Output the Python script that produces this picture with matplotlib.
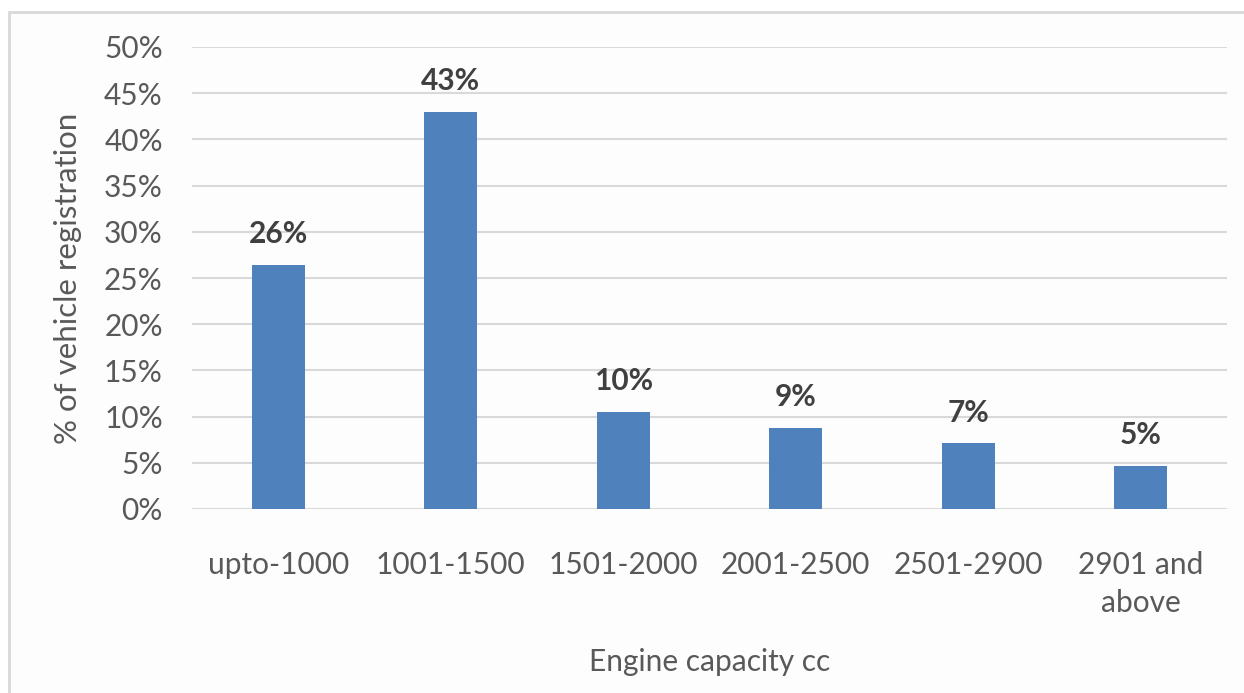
import matplotlib.pyplot as plt
from matplotlib.patches import Rectangle
from matplotlib.ticker import FuncFormatter, MultipleLocator

# Share of vehicle registrations by engine capacity
categories = ["upto-1000", "1001-1500", "1501-2000", "2001-2500", "2501-2900", "2901 and\nabove"]
shares = [26.4, 43.0, 10.5, 8.8, 7.1, 4.7]

BAR_COLOR = "#4F81BD"
TICK_COLOR = "#595959"
LABEL_COLOR = "#404040"
GRID_COLOR = "#D9D9D9"
FONT = ["Lato", "DejaVu Sans"]
FS = 21.5

plt.rcParams["font.family"] = FONT

fig = plt.figure(figsize=(12.44, 6.93), dpi=100)
fig.patch.set_facecolor("white")

# light chart-area frame running off the right and bottom edges
frame = Rectangle((9 / 1244, -0.05), 1.2, 1 - 12 / 693 + 0.05,
                  transform=fig.transFigure, facecolor="#FDFDFD",
                  edgecolor=GRID_COLOR, linewidth=2.0, zorder=-10)
fig.patches.append(frame)

ax = fig.add_axes([192 / 1244, 1 - 509 / 693, (1227 - 192) / 1244, (509 - 47) / 693])
ax.set_facecolor("none")

x = list(range(len(categories)))
bars = ax.bar(x, shares, width=0.31, color=BAR_COLOR, zorder=3)

for rect, v in zip(bars, shares):
    ax.annotate(f"{round(v)}%", (rect.get_x() + rect.get_width() / 2, v),
                xytext=(0, 12), textcoords="offset points",
                ha="center", va="bottom", fontsize=FS, fontweight="bold",
                color=LABEL_COLOR)

ax.set_xlim(-0.5, len(categories) - 0.5)
ax.set_ylim(0, 50)
ax.yaxis.set_major_locator(MultipleLocator(5))
ax.yaxis.set_major_formatter(FuncFormatter(lambda v, _: f"{v:.0f}%"))
ax.grid(axis="y", color=GRID_COLOR, linewidth=1.5, zorder=0)
ax.set_axisbelow(True)

for s in ax.spines.values():
    s.set_visible(False)

ax.set_xticks(x)
ax.set_xticklabels(categories, fontsize=FS, color=TICK_COLOR, linespacing=1.45)
ax.tick_params(axis="x", length=0, pad=30)
ax.tick_params(axis="y", length=0, pad=21, labelsize=FS, labelcolor=TICK_COLOR)

ax.set_ylabel("% of vehicle registration", fontsize=FS + 1, color=TICK_COLOR, labelpad=16)
fig.text(710 / 1244, 1 - 662 / 693, "Engine capacity cc", fontsize=FS,
         color=TICK_COLOR, ha="center", va="center")

fig.savefig("out.png", dpi=100)
